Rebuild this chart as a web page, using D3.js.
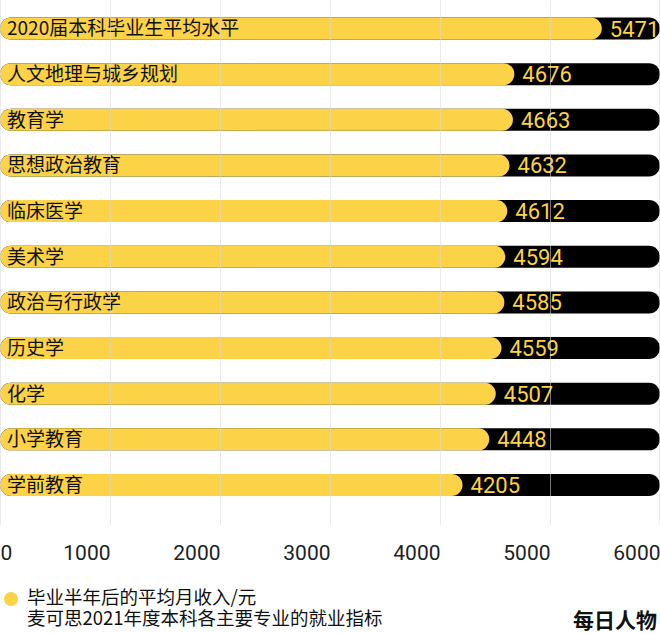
<!DOCTYPE html>
<html>
<head>
<meta charset="utf-8">
<script src="https://cdn.jsdelivr.net/npm/d3@7"></script>
<style>
  html, body { margin: 0; padding: 0; background: #fff; }
  svg { display: block; }
</style>
</head>
<body>
<svg id="chart" width="660" height="634"></svg>
<script>
const categories = ["2020届本科毕业生平均水平", "人文地理与城乡规划", "教育学", "思想政治教育", "临床医学", "美术学", "政治与行政学", "历史学", "化学", "小学教育", "学前教育"];
const values = [5471, 4676, 4663, 4632, 4612, 4594, 4585, 4559, 4507, 4448, 4205];
const tickValues = [0, 1000, 2000, 3000, 4000, 5000, 6000];
const legendLabel = "毕业半年后的平均月收入/元";
const sourceLabel = "麦可思2021年度本科各主要专业的就业指标";
const brandLabel = "每日人物";

const W = 660, H = 634;
const YELLOW = "#FCD246";
const CJK = "'Noto Sans CJK SC', 'Noto Sans', sans-serif";
const NUM = "Roboto, 'Liberation Sans', sans-serif";

const svg = d3.select("#chart");
const x = d3.scaleLinear().domain([0, 6000]).range([0, 660]);
const y = d3.scalePoint().domain(categories).range([28.5, 485]);
const barH = 22;

const data = categories.map((c, i) => ({ c, v: values[i] }));

// background (black) bars
svg.append("g").selectAll("rect").data(data).join("rect")
  .attr("x", x(0)).attr("y", d => y(d.c) - barH / 2)
  .attr("width", x(6000) - x(0)).attr("height", barH)
  .attr("rx", barH / 2).attr("fill", "#000");

// value bars (yellow)
svg.append("g").selectAll("rect").data(data).join("rect")
  .attr("x", x(0)).attr("y", d => y(d.c) - barH / 2)
  .attr("width", d => x(d.v) - x(0)).attr("height", barH)
  .attr("rx", barH / 2).attr("fill", YELLOW);

// category labels
svg.append("g").selectAll("text").data(data).join("text")
  .attr("x", 7).attr("y", d => y(d.c)).attr("dy", "0.36em")
  .attr("font-family", CJK).attr("font-size", 19).attr("fill", "#111")
  .text(d => d.c);

// value labels
svg.append("g").selectAll("text").data(data).join("text")
  .attr("x", d => x(d.v) + 8).attr("y", d => y(d.c) + 8)
  .attr("font-family", NUM).attr("font-size", 22).attr("fill", YELLOW)
  .text(d => d.v);

// gridlines (drawn on top, faint)
svg.append("g").selectAll("line").data(tickValues).join("line")
  .attr("x1", d => Math.min(x(d), W - 1) + 0.5).attr("x2", d => Math.min(x(d), W - 1) + 0.5)
  .attr("y1", 0).attr("y2", 525)
  .attr("stroke", "#d8d8d8").attr("stroke-opacity", 0.55).attr("stroke-width", 1);

// axis
const axis = d3.axisBottom(x).tickValues(tickValues).tickSize(0).tickPadding(0).tickFormat(d3.format("d"));
const gAxis = svg.append("g").attr("transform", "translate(0,545)").call(axis);
gAxis.select(".domain").remove();
gAxis.selectAll("text")
  .attr("font-family", NUM).attr("font-size", 21).attr("fill", "#222")
  .attr("text-anchor", d => d === 0 ? "start" : "end")
  .attr("dy", "0.71em");

// legend (single text block, two lines)
svg.append("circle").attr("cx", 11).attr("cy", 599).attr("r", 7).attr("fill", YELLOW);
const leg = svg.append("text").attr("font-family", CJK).attr("font-size", 18.5).attr("fill", "#111");
leg.append("tspan").attr("x", 27).attr("y", 604).text(legendLabel);
leg.append("tspan").attr("x", 27).attr("y", 625).text(sourceLabel);

// brand
svg.append("text").attr("x", 657).attr("y", 628).attr("text-anchor", "end")
  .attr("font-family", CJK).attr("font-size", 21).attr("font-weight", 600).attr("fill", "#111")
  .text(brandLabel);
</script>
</body>
</html>
